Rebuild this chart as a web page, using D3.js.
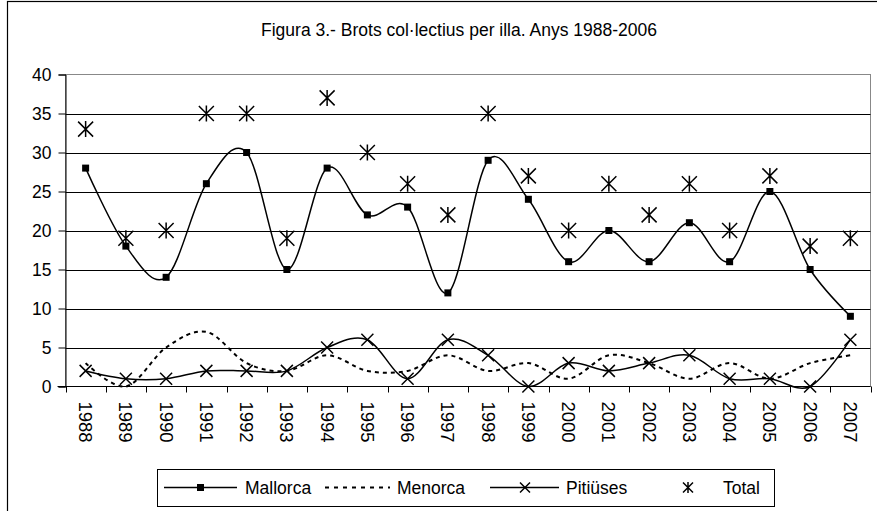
<!DOCTYPE html>
<html>
<head>
<meta charset="utf-8">
<script src="https://cdn.jsdelivr.net/npm/d3@7"></script>
<style>
  html, body { margin: 0; padding: 0; background: #fff; }
  svg { display: block; }
  text { font-family: "Liberation Sans", Arial, sans-serif; fill: #000; }
</style>
</head>
<body>
<svg id="chart" width="877" height="511"></svg>
<script>
const years = ["1988","1989","1990","1991","1992","1993","1994","1995","1996","1997","1998","1999","2000","2001","2002","2003","2004","2005","2006","2007"];
const mallorca = [28,18,14,26,30,15,28,22,23,12,29,24,16,20,16,21,16,25,15,9];
const menorca  = [3,0,5,7,3,2,4,2,2,4,2,3,1,4,3,1,3,1,3,4];
const pitiuses = [2,1,1,2,2,2,5,6,1,6,4,0,3,2,3,4,1,1,0,6];
const total    = [33,19,20,35,35,19,37,30,26,22,35,27,20,26,22,26,20,27,18,19];
const yTicks = [0,5,10,15,20,25,30,35,40];
const title = "Figura 3.- Brots col·lectius per illa. Anys 1988-2006";
const seriesNames = ["Mallorca","Menorca","Pitiüses","Total"];

const svg = d3.select("#chart");
const L = 65.5, R = 870.5, T = 74.5, B = 386.5;

// outer frame
svg.append("rect").attr("x",7.5).attr("y",1.5).attr("width",890).attr("height",530)
  .attr("fill","none").attr("stroke","#000").attr("stroke-width",1.2);

const x = d3.scaleBand().domain(years).range([L, R]);
const y = d3.scaleLinear().domain([0,40]).range([B, T]);
const cx = d => x(d) + x.bandwidth()/2;

// plot border (gray)
svg.append("rect").attr("x",L).attr("y",T).attr("width",R-L).attr("height",B-T)
  .attr("fill","none").attr("stroke","#888").attr("stroke-width",1);

// gridlines
svg.append("g").selectAll("line").data(yTicks.filter(t => t>0 && t<40)).join("line")
  .attr("x1",L).attr("x2",R)
  .attr("y1",d=>Math.round(y(d))+0.5).attr("y2",d=>Math.round(y(d))+0.5)
  .attr("stroke","#000").attr("stroke-width",1);

// y axis
const yAxis = d3.axisLeft(y).tickValues(yTicks).tickSize(7).tickPadding(7);
const gy = svg.append("g").attr("transform",`translate(${L},0)`).call(yAxis);
gy.select(".domain").attr("stroke","#000");
gy.selectAll(".tick line").attr("stroke","#000");
gy.selectAll("text").style("font-size","17.5px").attr("font-family",null);

// x axis: ticks at band boundaries
const gx = svg.append("g");
gx.append("line").attr("x1",L-8).attr("x2",R).attr("y1",B).attr("y2",B).attr("stroke","#000");
const bounds = years.map(d => x(d)).concat([R]);
gx.selectAll("line.tk").data(bounds).join("line").attr("class","tk")
  .attr("x1",d=>Math.round(d)+0.5).attr("x2",d=>Math.round(d)+0.5)
  .attr("y1",B).attr("y2",B+6).attr("stroke","#000");
gx.selectAll("text").data(years).join("text")
  .attr("transform", d => `translate(${cx(d)},${B+15}) rotate(90)`)
  .attr("dominant-baseline","central")
  .style("font-size","18.5px")
  .text(d => d);

const curve = d3.curveCardinal.tension(0);
const line = d3.line().x((v,i)=>cx(years[i])).y(v=>y(v)).curve(curve);

// Menorca dashed
svg.append("path").datum(menorca).attr("d",line)
  .attr("fill","none").attr("stroke","#000").attr("stroke-width",2).attr("stroke-dasharray","4,4");
// Mallorca
svg.append("path").datum(mallorca).attr("d",line)
  .attr("fill","none").attr("stroke","#000").attr("stroke-width",1.5);
svg.append("g").selectAll("rect").data(mallorca).join("rect")
  .attr("x",(v,i)=>cx(years[i])-3.5).attr("y",v=>y(v)-3.5).attr("width",7).attr("height",7).attr("fill","#000");
// Pitiüses
svg.append("path").datum(pitiuses).attr("d",line)
  .attr("fill","none").attr("stroke","#000").attr("stroke-width",1.5);

function xMark(g, px, py, s) {
  g.append("path").attr("d",`M${px-s},${py-s}L${px+s},${py+s}M${px-s},${py+s}L${px+s},${py-s}`)
    .attr("stroke","#000").attr("stroke-width",1.5).attr("fill","none");
}
function starMark(g, px, py, s) {
  g.append("path").attr("d",`M${px-s},${py-s}L${px+s},${py+s}M${px-s},${py+s}L${px+s},${py-s}M${px},${py-s-0.5}L${px},${py+s+0.5}`)
    .attr("stroke","#000").attr("stroke-width",1.5).attr("fill","none");
}
const gm = svg.append("g");
pitiuses.forEach((v,i)=> xMark(gm, cx(years[i]), y(v), 6));
total.forEach((v,i)=> starMark(gm, cx(years[i]), y(v), 7.5));

// title
svg.append("text").attr("x",459).attr("y",36).attr("text-anchor","middle")
  .style("font-size","17.5px").text(title);

// legend
const lg = svg.append("g");
lg.append("rect").attr("x",157.5).attr("y",469.5).attr("width",617).attr("height",37)
  .attr("fill","#fff").attr("stroke","#000").attr("stroke-width",1);
const ly = 487.5;
lg.append("line").attr("x1",164).attr("x2",237).attr("y1",ly).attr("y2",ly).attr("stroke","#000").attr("stroke-width",1.5);
lg.append("rect").attr("x",197).attr("y",ly-3.5).attr("width",7).attr("height",7).attr("fill","#000");
lg.append("text").attr("x",245).attr("y",ly+6).style("font-size","17.5px").text(seriesNames[0]);
lg.append("line").attr("x1",325).attr("x2",390).attr("y1",ly).attr("y2",ly).attr("stroke","#000").attr("stroke-width",2).attr("stroke-dasharray","4,5");
lg.append("text").attr("x",397).attr("y",ly+6).style("font-size","17.5px").text(seriesNames[1]);
lg.append("line").attr("x1",490).attr("x2",559).attr("y1",ly).attr("y2",ly).attr("stroke","#000").attr("stroke-width",1.5);
xMark(lg, 525, ly, 5);
lg.append("text").attr("x",566).attr("y",ly+6).style("font-size","17.5px").text(seriesNames[2]);
starMark(lg, 688, ly, 5);
lg.append("text").attr("x",723).attr("y",ly+6).style("font-size","17.5px").text(seriesNames[3]);
</script>
</body>
</html>
